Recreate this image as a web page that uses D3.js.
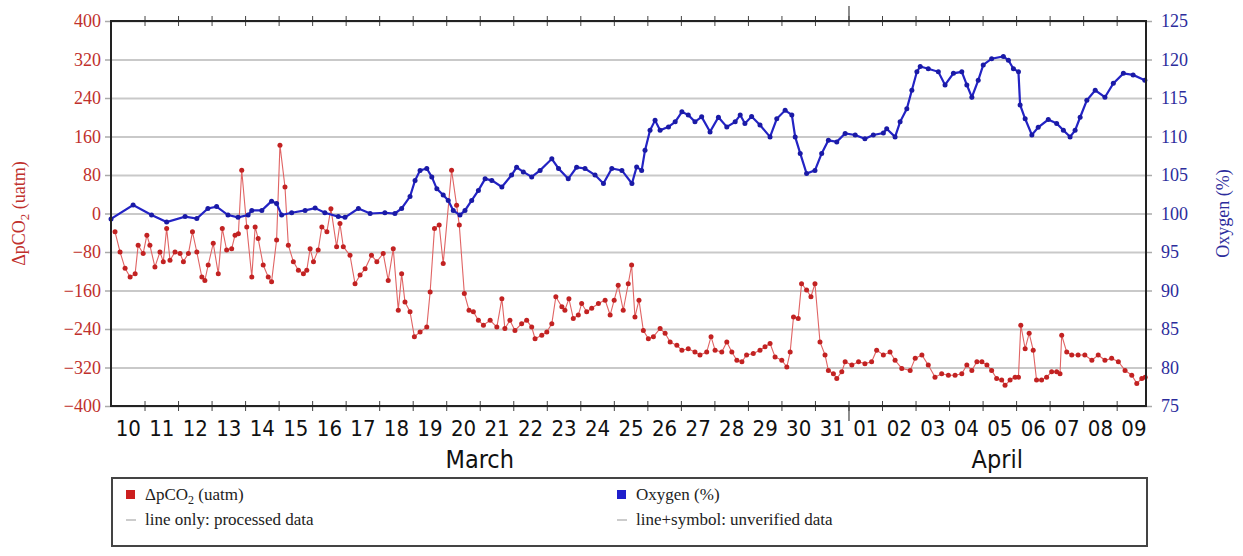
<!DOCTYPE html>
<html>
<head>
<meta charset="utf-8">
<script src="https://cdn.jsdelivr.net/npm/d3@7"></script>
<style>
  body { margin: 0; background: #fff; }
  svg { display: block; }
</style>
</head>
<body>
<div id="chart"></div>
<script>
// time offsets in days from 10 March 00:00
var co2Days = [0.12,0.27,0.42,0.57,0.72,0.81,0.96,1.07,1.16,1.31,
  1.46,1.56,1.66,1.76,1.91,2.06,2.16,2.31,2.43,2.56,
  2.71,2.80,2.90,3.05,3.20,3.32,3.45,3.60,3.70,3.80,
  3.90,4.05,4.20,4.30,4.39,4.54,4.69,4.79,4.94,5.04,
  5.19,5.29,5.44,5.59,5.74,5.84,5.94,6.04,6.18,6.29,
  6.44,6.56,6.73,6.83,6.93,7.13,7.28,7.43,7.58,7.77,
  7.93,8.12,8.27,8.42,8.57,8.67,8.77,8.92,9.05,9.22,
  9.42,9.52,9.65,9.79,9.91,10.16,10.31,10.39,10.54,10.68,
  10.81,10.96,11.11,11.31,11.51,11.66,11.75,11.90,12.05,12.25,
  12.40,12.55,12.65,12.85,13.00,13.15,13.27,13.45,13.54,13.66,
  13.79,13.94,14.04,14.19,14.34,14.54,14.74,14.89,15.01,15.13,
  15.28,15.43,15.53,15.63,15.75,15.88,16.03,16.18,16.38,16.53,
  16.68,16.88,17.03,17.22,17.42,17.57,17.77,17.90,18.02,18.22,
  18.37,18.52,18.67,18.82,18.96,19.16,19.36,19.51,19.66,19.81,
  20.01,20.16,20.26,20.36,20.50,20.60,20.75,20.88,21.00,21.15,
  21.30,21.40,21.55,21.65,21.80,21.90,22.10,22.30,22.49,22.69,
  22.84,23.04,23.24,23.39,23.59,23.84,23.99,24.19,24.38,24.58,
  24.78,24.98,25.18,25.38,25.53,25.68,25.83,25.98,26.13,26.27,
  26.42,26.57,26.67,26.82,26.97,27.07,27.14,27.27,27.39,27.51,
  27.61,27.76,27.91,28.06,28.21,28.31,28.36,28.51,28.66,28.85,
  29.05,29.26,29.45,29.65,29.85,30.05,30.25,30.45,30.60,30.75,
  30.85];
var co2Values = [-38,-80,-114,-132,-125,-66,-83,-45,-66,-111,
  -80,-100,-31,-97,-80,-83,-100,-83,-38,-80,
  -132,-139,-107,-62,-125,-31,-76,-73,-45,-42,
  90,-28,-132,-28,-52,-107,-132,-142,-55,142,
  55,-66,-100,-118,-125,-118,-73,-100,-76,-28,
  -38,10,-69,-21,-69,-87,-146,-128,-115,-87,
  -100,-83,-139,-73,-201,-125,-184,-204,-256,-246,
  -236,-163,-31,-24,-104,90,17,-24,-166,-201,
  -204,-222,-232,-222,-236,-177,-239,-222,-243,-229,
  -222,-236,-260,-253,-246,-229,-173,-194,-201,-177,
  -218,-211,-187,-204,-197,-187,-180,-211,-180,-149,
  -201,-146,-107,-215,-180,-243,-260,-256,-239,-249,
  -267,-274,-284,-281,-288,-294,-288,-256,-284,-288,
  -267,-288,-305,-308,-294,-291,-284,-277,-270,-298,
  -305,-319,-288,-215,-218,-146,-159,-173,-146,-267,
  -294,-326,-333,-343,-329,-308,-315,-308,-312,-308,
  -284,-294,-288,-305,-322,-326,-301,-294,-315,-340,
  -333,-336,-336,-333,-315,-326,-308,-308,-315,-326,
  -343,-346,-357,-346,-340,-340,-232,-281,-249,-284,
  -346,-346,-340,-329,-329,-333,-253,-288,-294,-294,
  -294,-305,-294,-305,-301,-308,-326,-336,-353,-343,
  -340];

var o2Days = [0.00,0.66,1.21,1.66,2.21,2.56,2.89,3.15,3.49,3.79,
  4.09,4.20,4.50,4.79,4.94,5.09,5.39,5.79,6.09,6.38,
  6.78,6.98,7.38,7.73,8.17,8.47,8.67,8.92,9.07,9.22,
  9.42,9.57,9.72,9.91,10.06,10.21,10.41,10.56,10.76,10.96,
  11.16,11.36,11.66,11.95,12.10,12.30,12.55,12.80,13.15,13.35,
  13.64,13.89,14.14,14.44,14.69,14.94,15.24,15.54,15.68,15.83,
  15.93,16.08,16.23,16.38,16.63,16.83,17.03,17.22,17.42,17.62,
  17.87,18.12,18.37,18.62,18.77,18.91,19.11,19.36,19.66,19.86,
  20.11,20.31,20.41,20.56,20.75,21.00,21.20,21.40,21.65,21.90,
  22.20,22.49,22.74,23.04,23.14,23.39,23.54,23.74,23.89,24.04,
  24.14,24.38,24.68,24.88,25.13,25.38,25.53,25.68,25.87,26.02,
  26.27,26.62,26.77,26.92,27.07,27.12,27.27,27.47,27.66,27.96,
  28.21,28.41,28.61,28.76,28.91,29.11,29.36,29.65,29.90,30.20,
  30.49,30.84];
var o2Values = [99.3,101.1,99.8,98.9,99.6,99.35,100.65,100.9,99.8,99.5,
  99.8,100.4,100.4,101.6,101.3,99.8,100.1,100.4,100.7,100.1,
  99.6,99.5,100.65,100.0,100.1,100.0,100.65,102.2,104.3,105.6,
  105.85,104.75,103.2,102.4,101.7,100.4,99.8,100.4,101.7,103.0,
  104.5,104.3,103.45,105.0,106.0,105.4,104.75,105.6,107.1,105.85,
  104.5,106.0,105.85,105.0,103.9,105.85,105.6,103.9,106.05,105.6,
  108.2,110.8,112.1,110.8,111.25,111.9,113.2,112.8,111.9,112.55,
  110.6,112.5,111.25,111.9,112.8,111.7,112.6,111.5,109.95,112.3,
  113.4,112.8,109.95,107.8,105.2,105.6,107.8,109.5,109.3,110.4,
  110.2,109.7,110.2,110.45,111.0,109.95,111.9,113.6,116.0,118.4,
  119.1,118.8,118.4,116.7,118.2,118.4,116.7,115.1,117.3,119.3,
  120.1,120.4,119.9,118.8,118.4,114.1,112.3,110.2,111.2,112.2,
  111.7,110.8,109.95,110.8,112.5,114.7,116.0,115.1,116.9,118.2,
  118.0,117.3];

var dayLabels = ["10","11","12","13","14","15","16","17","18","19","20","21",
  "22","23","24","25","26","27","28","29","30","31","01","02","03","04","05",
  "06","07","08","09"];
var monthLabels = ["March", "April"];
var co2Ticks = [-400,-320,-240,-160,-80,0,80,160,240,320,400];
var o2Ticks = [75,80,85,90,95,100,105,110,115,120,125];

var W = 1243, H = 556;
var margin = {top: 21, right: 97, bottom: 150, left: 111};
var width = W - margin.left - margin.right,
    height = H - margin.top - margin.bottom;

var start = new Date(Date.UTC(2010, 2, 10));
function dayDate(t) { return new Date(start.getTime() + t * 864e5); }
var monthStart = dayDate(22);   // 1 April

var svg = d3.select("#chart").append("svg")
    .attr("width", W)
    .attr("height", H)
    .style("background", "#fff");

var g = svg.append("g")
    .attr("transform", "translate(" + margin.left + "," + margin.top + ")");

var x = d3.scaleUtc()
    .domain([start, dayDate(30.875)])
    .range([0, width]);
var yL = d3.scaleLinear().domain([-400, 400]).range([height, 0]);
var yR = d3.scaleLinear().domain([75, 125]).range([height, 0]);

var serif = "'Liberation Serif', 'Times New Roman', serif";
var narrow = "'Liberation Sans Narrow', 'Arial Narrow', 'DejaVu Sans Condensed', sans-serif";
var redText = "#c0302c", blueText = "#2c2c9c";

// grid lines
g.append("g")
    .call(d3.axisLeft(yL).tickValues(co2Ticks).tickSize(-width).tickFormat(""))
    .call(function(s) {
      s.select(".domain").remove();
      s.selectAll("line").attr("stroke", "#c9c9c9").attr("stroke-width", 1.8);
    });

// left axis
g.append("g")
    .call(d3.axisLeft(yL).tickValues(co2Ticks).tickSize(6).tickPadding(4))
    .call(function(s) {
      s.select(".domain").remove();
      s.selectAll("line").attr("stroke", "#aaa").attr("stroke-width", 1.5);
      s.selectAll("text").attr("fill", redText)
        .style("font-family", serif).style("font-size", "18px")
        .text(function(d) { return d < 0 ? "\u2212" + (-d) : d; });
    });

// right axis
g.append("g")
    .attr("transform", "translate(" + width + ",0)")
    .call(d3.axisRight(yR).tickValues(o2Ticks).tickSize(6).tickPadding(9))
    .call(function(s) {
      s.select(".domain").remove();
      s.selectAll("line").attr("stroke", "#aaa").attr("stroke-width", 1.5);
      s.selectAll("text").attr("fill", blueText)
        .style("font-family", serif).style("font-size", "18px");
    });

// day ticks on top and bottom, crossing the frame
var dayTicks = d3.utcDay.range(dayDate(1), dayDate(30.875));
[[0, d3.axisTop], [height, d3.axisBottom]].forEach(function(p) {
  [5, -5].forEach(function(sz) {
    g.append("g")
        .attr("transform", "translate(0," + p[0] + ")")
        .call(p[1](x).tickValues(dayTicks).tickSize(sz).tickFormat(""))
        .call(function(s) {
          s.select(".domain").remove();
          s.selectAll("line").attr("stroke", "#444").attr("stroke-width", 1);
        });
  });
  g.append("g")
      .attr("transform", "translate(0," + p[0] + ")")
      .call(p[1](x).tickValues([monthStart]).tickSize(15).tickFormat(""))
      .call(function(s) {
        s.select(".domain").remove();
        s.selectAll("line").attr("stroke", "#444").attr("stroke-width", 1.2);
      });
});

// day labels at noon
var noons = dayLabels.map(function(d, i) { return dayDate(i + 0.5); });
g.append("g")
    .attr("transform", "translate(0," + height + ")")
    .call(d3.axisBottom(x).tickValues(noons).tickSize(0).tickPadding(14)
      .tickFormat(function(d, i) { return dayLabels[i]; }))
    .call(function(s) {
      s.select(".domain").remove();
      s.selectAll("text").attr("fill", "#111")
        .style("font-family", narrow).style("font-size", "22px");
    });

// month labels
var monthSpans = [[start, monthStart], [monthStart, x.domain()[1]]];
g.selectAll(".month")
    .data(monthLabels)
    .enter().append("text")
    .attr("class", "month")
    .attr("x", function(d, i) { return (x(monthSpans[i][0]) + x(monthSpans[i][1])) / 2; })
    .attr("y", height + 62)
    .attr("text-anchor", "middle")
    .attr("fill", "#111")
    .style("font-family", narrow)
    .style("font-size", "25px")
    .text(function(d) { return d; });

// series
var co2Data = d3.zip(co2Days, co2Values);
var o2Data = d3.zip(o2Days, o2Values);

var lineL = d3.line()
    .x(function(d) { return x(dayDate(d[0])); })
    .y(function(d) { return yL(d[1]); });
var lineR = d3.line()
    .x(function(d) { return x(dayDate(d[0])); })
    .y(function(d) { return yR(d[1]); });

g.append("path")
    .datum(co2Data)
    .attr("d", lineL)
    .attr("fill", "none")
    .attr("stroke", "#e06464")
    .attr("stroke-width", 1.1);
g.selectAll(".co2dot")
    .data(co2Data)
    .enter().append("circle")
    .attr("class", "co2dot")
    .attr("cx", function(d) { return x(dayDate(d[0])); })
    .attr("cy", function(d) { return yL(d[1]); })
    .attr("r", 2.5)
    .attr("fill", "#c22222");

g.append("path")
    .datum(o2Data)
    .attr("d", lineR)
    .attr("fill", "none")
    .attr("stroke", "#2323c4")
    .attr("stroke-width", 2.2);
g.selectAll(".o2dot")
    .data(o2Data)
    .enter().append("circle")
    .attr("class", "o2dot")
    .attr("cx", function(d) { return x(dayDate(d[0])); })
    .attr("cy", function(d) { return yR(d[1]); })
    .attr("r", 2.5)
    .attr("fill", "#1a1aa6");

// frame
g.append("rect")
    .attr("width", width)
    .attr("height", height)
    .attr("fill", "none")
    .attr("stroke", "#222")
    .attr("stroke-width", 2);

// axis titles
var leftTitle = svg.append("text")
    .attr("transform", "translate(25," + (margin.top + height / 2) + ") rotate(-90)")
    .attr("text-anchor", "middle")
    .attr("fill", redText)
    .style("font-family", serif)
    .style("font-size", "18px");
leftTitle.append("tspan").text("\u0394pCO");
leftTitle.append("tspan").attr("dy", 4).style("font-size", "13px").text("2");
leftTitle.append("tspan").attr("dy", -4).text(" (uatm)");

svg.append("text")
    .attr("transform", "translate(1229," + (margin.top + height / 2) + ") rotate(-90)")
    .attr("text-anchor", "middle")
    .attr("fill", blueText)
    .style("font-family", serif)
    .style("font-size", "18px")
    .text("Oxygen (%)");

// legend
var lg = svg.append("g");
lg.append("rect")
    .attr("x", 112).attr("y", 478)
    .attr("width", 1035).attr("height", 68)
    .attr("fill", "#fff")
    .attr("stroke", "#444")
    .attr("stroke-width", 2);

var legendItems = [
  {x: 126, color: "#cc1f1f", name: ["\u0394pCO", "2", " (uatm)"], note: "line only: processed data"},
  {x: 617, color: "#1f1fcc", name: ["Oxygen (%)"], note: "line+symbol: unverified data"}
];
legendItems.forEach(function(it) {
  lg.append("rect")
      .attr("x", it.x).attr("y", 490)
      .attr("width", 9).attr("height", 9)
      .attr("fill", it.color);
  var t = lg.append("text")
      .attr("x", it.x + 19).attr("y", 500)
      .attr("fill", "#222")
      .style("font-family", serif)
      .style("font-size", "17px");
  t.append("tspan").text(it.name[0]);
  if (it.name.length > 1) {
    t.append("tspan").attr("dy", 4).style("font-size", "12px").text(it.name[1]);
    t.append("tspan").attr("dy", -4).text(it.name[2]);
  }
  lg.append("line")
      .attr("x1", it.x).attr("x2", it.x + 10)
      .attr("y1", 520).attr("y2", 520)
      .attr("stroke", "#bbb").attr("stroke-width", 1.5);
  lg.append("text")
      .attr("x", it.x + 19).attr("y", 525)
      .attr("fill", "#222")
      .style("font-family", serif)
      .style("font-size", "17px")
      .text(it.note);
});
</script>
</body>
</html>
